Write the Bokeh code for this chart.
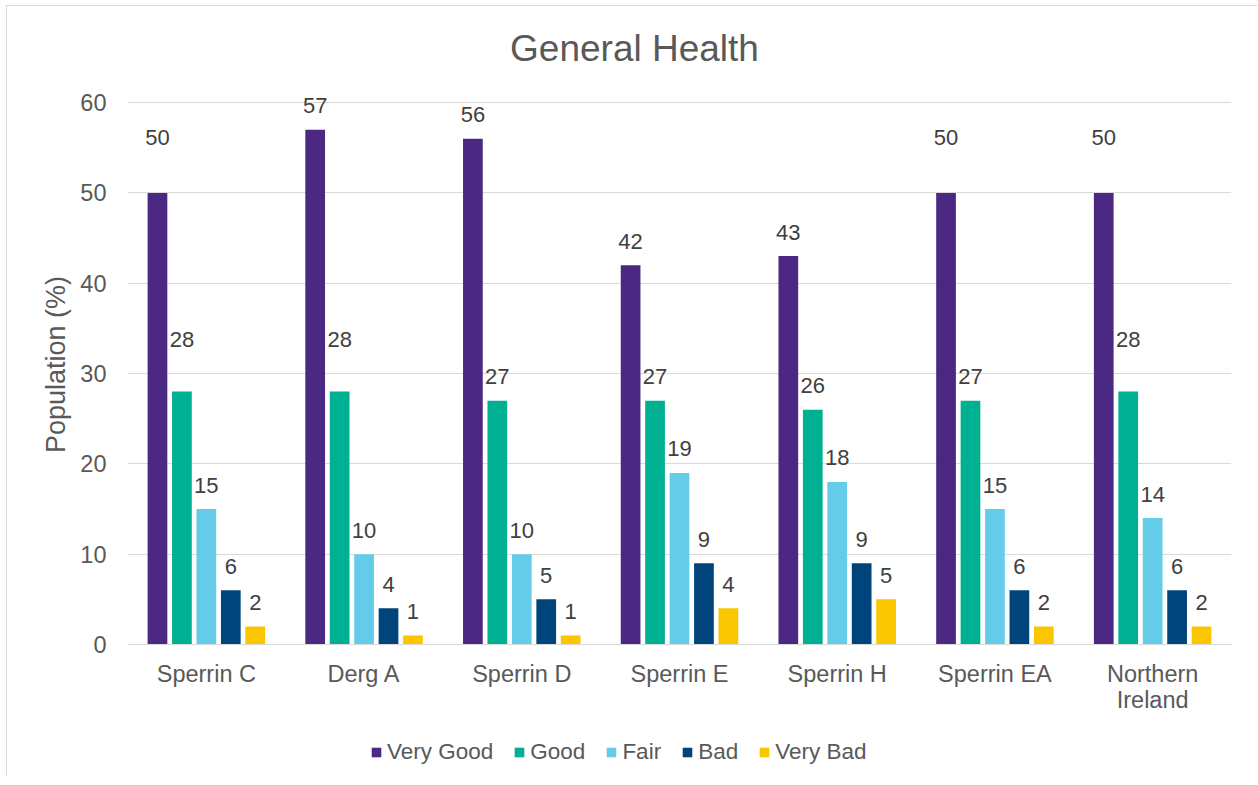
from bokeh.plotting import figure
from bokeh.models import ColumnDataSource, Legend, LegendItem, Label, FactorRange
from bokeh.layouts import column
from bokeh.transform import dodge
from bokeh.core.properties import value
from bokeh.embed import file_html
from bokeh.resources import INLINE

areas = ["Sperrin C", "Derg A", "Sperrin D", "Sperrin E", "Sperrin H", "Sperrin EA", "Northern\nIreland"]
very_good = [50, 57, 56, 42, 43, 50, 50]
good = [28, 28, 27, 27, 26, 27, 28]
fair = [15, 10, 10, 19, 18, 15, 14]
bad = [6, 4, 5, 9, 9, 6, 6]
very_bad = [2, 1, 1, 4, 5, 2, 2]
series_names = ["Very Good", "Good", "Fair", "Bad", "Very Bad"]
y_ticks = [0, 10, 20, 30, 40, 50, 60]

colors = ["#4B2882", "#00B092", "#64CCE9", "#00447C", "#F9C600"]
offsets = [-0.31, -0.155, 0.0, 0.155, 0.31]
FONT = "Liberation Sans"
GREY = "#595959"
W = 1250
# extra lift (px) that the original placed on some value labels
label_lift = {50: 31, 28: 28}

data = {"area": areas}
keys = ["vg", "g", "f", "b", "vb"]
for k, s in zip(keys, [very_good, good, fair, bad, very_bad]):
    data[k] = s
    data[k + "_lbl"] = [str(v) for v in s]
    data[k + "_off"] = [-24 - label_lift.get(v, 0) for v in s]
src = ColumnDataSource(data)


def bare(height):
    f = figure(width=W, height=height, x_axis_type=None, y_axis_type=None,
               output_backend="svg", toolbar_location=None,
               min_border_left=0, min_border_right=0, min_border_top=0, min_border_bottom=0)
    f.outline_line_color = None
    f.xgrid.visible = False
    f.ygrid.visible = False
    return f


# ---- title strip (its frame is aligned with the chart frame by the column layout)
tfig = bare(78)
tfig.add_layout(Label(x=507, y=36, x_units="screen", y_units="screen", text="General Health",
                      text_align="center", text_baseline="middle", text_font=FONT,
                      text_font_size="37px", text_color=GREY))

# ---- main chart
p = figure(x_range=FactorRange(*areas), y_range=(0, 62), width=W, height=640,
           output_backend="svg", toolbar_location=None,
           min_border_left=120, min_border_right=26, min_border_top=0, min_border_bottom=80)
p.outline_line_color = None
p.background_fill_color = "white"

for k, c, off in zip(keys, colors, offsets):
    p.vbar(x=dodge("area", off, range=p.x_range), top=k, width=0.125, source=src,
           fill_color=c, line_color=None)
    p.text(x=dodge("area", off, range=p.x_range), y=k, text=k + "_lbl", source=src,
           text_align="center", text_baseline="middle", y_offset=k + "_off",
           text_font=value(FONT), text_font_size="22px", text_color="#404040")

p.xgrid.grid_line_color = None
p.ygrid.grid_line_color = "#D9D9D9"
p.ygrid.grid_line_width = 1

p.yaxis.ticker = y_ticks
p.yaxis.axis_line_color = None
p.yaxis.major_tick_line_color = None
p.yaxis.minor_tick_line_color = None
p.yaxis.major_label_text_font = FONT
p.yaxis.major_label_text_font_size = "23.5px"
p.yaxis.major_label_text_color = GREY
p.yaxis.major_label_standoff = 15
p.yaxis.axis_label = "Population (%)"
p.yaxis.axis_label_text_font = FONT
p.yaxis.axis_label_text_font_size = "27px"
p.yaxis.axis_label_text_font_style = "normal"
p.yaxis.axis_label_text_color = GREY
p.yaxis.axis_label_standoff = 6

p.xaxis.axis_line_color = "#D9D9D9"
p.xaxis.major_tick_line_color = None
p.xaxis.minor_tick_line_color = None
p.xaxis.major_label_text_font = FONT
p.xaxis.major_label_text_font_size = "23.5px"
p.xaxis.major_label_text_color = GREY
p.xaxis.major_label_text_line_height = 1.0
p.xaxis.major_label_standoff = 10

# ---- legend strip: zero-height swatch renderers only feed the legend
lfig = bare(52)
swatch = ColumnDataSource(dict(x=[0], top=[0]))
items = []
for name, c in zip(series_names, colors):
    r = lfig.vbar(x="x", top="top", width=0, source=swatch, fill_color=c, line_color=None)
    items.append(LegendItem(label=name, renderers=[r]))
legend = Legend(items=items, orientation="horizontal", location=(243, 11),
                label_text_font=FONT, label_text_font_size="22.5px", label_text_color=GREY,
                glyph_width=12, glyph_height=12, label_standoff=5, spacing=20,
                padding=0, margin=0, border_line_color=None, background_fill_alpha=0)
lfig.add_layout(legend, "center")

layout = column(tfig, p, lfig, spacing=0)
layout.styles = {"margin-left": "6px", "margin-top": "5px",
                 "border-left": "1px solid #D9D9D9", "border-top": "1px solid #D9D9D9"}

open("out.html", "w").write(file_html(layout, INLINE))
